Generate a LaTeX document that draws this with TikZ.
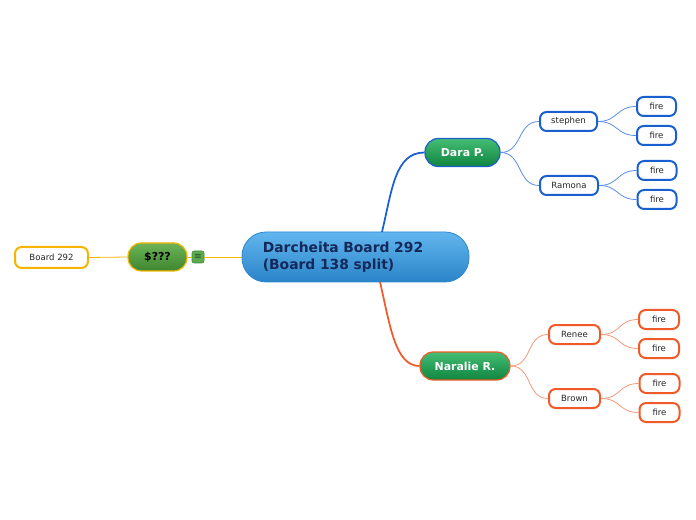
\documentclass[tikz,border=0pt]{standalone}
\usepackage{fontspec}
\setmainfont{DejaVu Sans}
\definecolor{bluebr}{HTML}{1A5FD0}
\definecolor{bluethin}{HTML}{5A8FE6}
\definecolor{orangebr}{HTML}{F05A28}
\definecolor{orangethin}{HTML}{F7987A}
\definecolor{yellowbr}{HTML}{F5B400}
\definecolor{navytext}{HTML}{14285A}
\definecolor{centertop}{HTML}{62B6EE}
\definecolor{centerbot}{HTML}{2A84C8}
\definecolor{centerline}{HTML}{2E86CF}
\definecolor{greentop}{HTML}{45BD74}
\definecolor{greenbot}{HTML}{0F8540}
\definecolor{olivetop}{HTML}{6CB456}
\definecolor{olivebot}{HTML}{3E862F}
\definecolor{notefill}{HTML}{5CAA4E}
\definecolor{noteline}{HTML}{3E8A3A}
\tikzset{
  topic/.style={draw=#1, line width=1.5pt, fill=white, rounded corners=5pt,
    minimum height=14.25pt, inner sep=1pt, font=\fontsize{6.4}{7}\selectfont,
    text=black!85},
  maintopic/.style={draw=#1, line width=0.9pt, rounded corners=10pt,
    minimum height=21pt, top color=greentop, bottom color=greenbot,
    text=white, font=\fontsize{8.2}{9}\selectfont\bfseries},
  thinlink/.style={draw=#1, line width=0.6pt},
  branch/.style={draw=#1, line width=1.3pt}
}
\begin{document}
\begin{tikzpicture}[x=0.75pt,y=-0.75pt]
  \useasboundingbox (0,0) rectangle (696,520);

  % central topic
  \node[draw=centerline, line width=0.6pt, rounded corners=18pt,
    minimum width=170.25pt, minimum height=37.5pt,
    top color=centertop, bottom color=centerbot,
    text=navytext, font=\fontsize{10.4}{12.5}\selectfont\bfseries,
    align=left, text width=139pt] (center) at (355.5,257)
    {Darcheita Board 292\\(Board 138 split)};
  \coordinate (ctop) at (382,232);
  \coordinate (cbot) at (380,282);

  % left side
  \node[draw=noteline, line width=0.4pt, fill=notefill, rounded corners=1.5pt,
    minimum size=9pt, inner sep=0pt, font=\fontsize{6}{6}\selectfont] (note) at (198,257) {$\equiv$};
  \node[draw=yellowbr, line width=0.9pt, rounded corners=10pt,
    minimum width=44.25pt, minimum height=21pt,
    top color=olivetop, bottom color=olivebot,
    font=\fontsize{8.2}{9}\selectfont\bfseries] (money) at (157.5,257) {\$???};
  \node[topic=yellowbr, minimum width=54.75pt, minimum height=15.75pt] (board) at (51.5,257.5) {Board 292};
  \draw[thinlink=yellowbr] (center.west) -- (note.east);
  \draw[thinlink=yellowbr] (note.west) -- (money.east);
  \draw[thinlink=yellowbr] (money.west) -- (board.east);

  % upper branch
  \node[maintopic=bluebr, minimum width=56.25pt] (dara) at (462.5,152.5) {Dara P.};
  \node[topic=bluebr, minimum width=42.75pt] (stephen) at (568.5,121.5) {stephen};
  \node[topic=bluebr, minimum width=43.5pt] (ramona) at (569,185.5) {Ramona};
  \node[topic=bluebr, minimum width=29.25pt] (fa) at (656.5,106.5) {fire};
  \node[topic=bluebr, minimum width=29.25pt] (fb) at (656.5,135.5) {fire};
  \node[topic=bluebr, minimum width=29.25pt] (fc) at (657,170.5) {fire};
  \node[topic=bluebr, minimum width=29.25pt] (fd) at (657,199.5) {fire};

  \draw[branch=bluebr] (ctop) .. controls (392,190) and (395,152.5) .. (dara.west);
  \draw[thinlink=bluethin] (dara.east) .. controls +(22,0) and +(-22,0) .. (stephen.west);
  \draw[thinlink=bluethin] (dara.east) .. controls +(22,0) and +(-22,0) .. (ramona.west);
  \draw[thinlink=bluethin] (stephen.east) .. controls +(20,0) and +(-20,0) .. (fa.west);
  \draw[thinlink=bluethin] (stephen.east) .. controls +(20,0) and +(-20,0) .. (fb.west);
  \draw[thinlink=bluethin] (ramona.east) .. controls +(20,0) and +(-20,0) .. (fc.west);
  \draw[thinlink=bluethin] (ramona.east) .. controls +(20,0) and +(-20,0) .. (fd.west);

  % lower branch
  \node[maintopic=orangebr, minimum width=67.5pt] (naralie) at (465,366) {Naralie R.};
  \node[topic=orangebr, minimum width=38.25pt] (renee) at (574.5,334.5) {Renee};
  \node[topic=orangebr, minimum width=38.25pt] (brown) at (574.5,398.5) {Brown};
  \node[topic=orangebr, minimum width=30pt] (fe) at (659,319.5) {fire};
  \node[topic=orangebr, minimum width=30pt] (ff) at (659,348.5) {fire};
  \node[topic=orangebr, minimum width=30pt] (fg) at (659.5,383.5) {fire};
  \node[topic=orangebr, minimum width=30pt] (fh) at (659.5,412.5) {fire};

  \draw[branch=orangebr] (cbot) .. controls (390,325) and (395,366) .. (naralie.west);
  \draw[thinlink=orangethin] (naralie.east) .. controls +(22,0) and +(-22,0) .. (renee.west);
  \draw[thinlink=orangethin] (naralie.east) .. controls +(22,0) and +(-22,0) .. (brown.west);
  \draw[thinlink=orangethin] (renee.east) .. controls +(20,0) and +(-20,0) .. (fe.west);
  \draw[thinlink=orangethin] (renee.east) .. controls +(20,0) and +(-20,0) .. (ff.west);
  \draw[thinlink=orangethin] (brown.east) .. controls +(20,0) and +(-20,0) .. (fg.west);
  \draw[thinlink=orangethin] (brown.east) .. controls +(20,0) and +(-20,0) .. (fh.west);
\end{tikzpicture}
\end{document}
